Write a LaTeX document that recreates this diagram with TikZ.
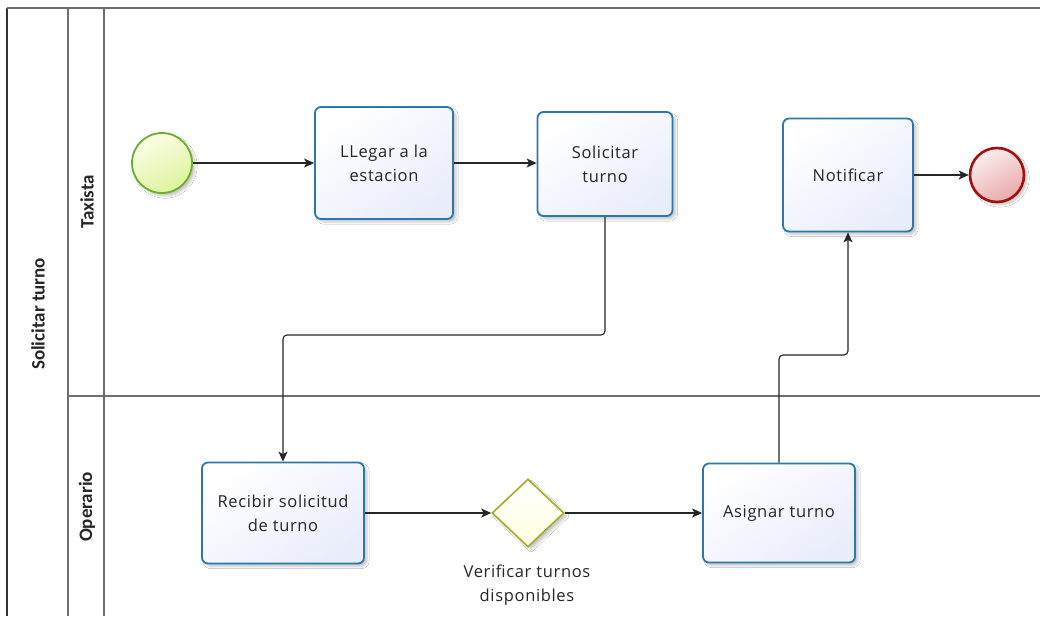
\documentclass[tikz,border=0pt]{standalone}
\usepackage{fontspec}
\setmainfont{Open Sans}[LetterSpace=4]
\newfontfamily\lanefont{Carlito}
\usetikzlibrary{arrows.meta,shapes.geometric,shadows.blur}

\definecolor{taskline}{HTML}{2A78AC}
\definecolor{taskfill}{HTML}{E9EDFB}
\definecolor{startline}{HTML}{6AAE2A}
\definecolor{startfillA}{HTML}{FBFEE8}
\definecolor{startfillB}{HTML}{DDF39C}
\definecolor{endline}{HTML}{A30E0E}
\definecolor{endfillA}{HTML}{FCEEEE}
\definecolor{endfillB}{HTML}{E9A9A9}
\definecolor{gateline}{HTML}{A9A92C}
\definecolor{gatefill}{HTML}{FFFFE0}
\definecolor{framegray}{HTML}{6E6E6E}

\pgfdeclarelayer{bg}
\pgfsetlayers{bg,main}

\begin{document}
\begin{tikzpicture}[x=1pt,y=-1pt,
  every node/.style={text=black!85},
  soft/.style={blur shadow={shadow xshift=3pt,shadow yshift=-3pt,shadow blur steps=6,shadow opacity=22}},
  task/.style={rectangle,rounded corners=6pt,draw=taskline,line width=1.8pt,
    top color=white,bottom color=taskfill,shading angle=35,soft,
    align=center,inner sep=2pt,font=\fontsize{16.5}{24}\selectfont},
  startev/.style={circle,draw=startline,line width=1.8pt,minimum size=60pt,inner sep=0pt,
    top color=startfillA,bottom color=startfillB,shading angle=30,soft},
  endev/.style={circle,draw=endline,line width=2.6pt,minimum size=54pt,inner sep=0pt,
    top color=endfillA,bottom color=endfillB,shading angle=30,soft},
  gateway/.style={diamond,draw=gateline,line width=1.6pt,minimum width=72pt,minimum height=68pt,
    inner sep=0pt,top color=white,bottom color=gatefill,soft},
  caption/.style={align=center,font=\fontsize{16.5}{24}\selectfont},
  frame/.style={draw=framegray,line width=1.3pt},
  lanelabel/.style={rotate=90,font=\lanefont\bfseries\fontsize{19}{21}\selectfont},
  flow/.style={draw=black!85,line width=1.1pt,rounded corners=4pt,
    -{Stealth[length=10pt,width=9pt,inset=2.5pt]}},
  trail/.style={draw=black!5,line width=2pt,rounded corners=4pt}]

\useasboundingbox (0,0) rectangle (1040,616);
\fill[white] (0,0) rectangle (1040,616);

% pool and lanes
\draw[frame,draw=black!80,line width=1.6pt] (7,616) -- (7,8);
\draw[frame] (7,8) -- (1040,8);
\draw[frame] (68,8) -- (68,616);
\draw[frame] (104,8) -- (104,616);
\draw[frame] (68,396) -- (1040,396);

\node[lanelabel] (pool) at (38,314) {Solicitar turno};
\node[lanelabel] (laneT) at (87,202) {Taxista};
\node[lanelabel] (laneO) at (87,507) {Operario};

% flow objects
\node[startev] (start) at (162,163) {};
\node[task,minimum width=138pt,minimum height=112pt] (llegar) at (384,163) {LLegar a la\\estacion};
\node[task,minimum width=135pt,minimum height=104pt] (solic) at (605,164) {Solicitar\\turno};
\node[task,minimum width=130pt,minimum height=113pt] (notif) at (848,175) {Notificar};
\node[endev] (finish) at (997,175) {};
\node[task,minimum width=162pt,minimum height=101pt] (recib) at (283,513) {Recibir solicitud\\de turno};
\node[gateway] (gate) at (528,513) {};
\node[caption] (gatecap) at (527,585) {Verificar turnos\\disponibles};
\node[task,minimum width=152pt,minimum height=99pt] (asign) at (779,513) {Asignar turno};

\coordinate (bendA) at (0,335);
\coordinate (bendB) at (0,355);

% sequence flows (with their faint offset trails)
\begin{pgfonlayer}{bg}
\begin{scope}[transform canvas={shift={(11pt,-11pt)}}]
  \draw[trail] (start.east) -- (start.east -| llegar.west);
  \draw[trail] (llegar.east) -- (llegar.east -| solic.west);
  \draw[trail] (solic.south) -- (solic.south |- bendA) -| (recib.north);
  \draw[trail] (recib.east) -- (gate.west);
  \draw[trail] (gate.east) -- (asign.west);
  \draw[trail] (asign.north) -- (asign.north |- bendB) -| (notif.south);
  \draw[trail] (notif.east) -- (finish.west);
\end{scope}
\end{pgfonlayer}

\draw[flow] (start.east) -- (start.east -| llegar.west);
\draw[flow] (llegar.east) -- (llegar.east -| solic.west);
\draw[flow] (solic.south) -- (solic.south |- bendA) -| (recib.north);
\draw[flow] (recib.east) -- (gate.west);
\draw[flow] (gate.east) -- (asign.west);
\draw[flow] (asign.north) -- (asign.north |- bendB) -| (notif.south);
\draw[flow] (notif.east) -- (finish.west);

\end{tikzpicture}
\end{document}
